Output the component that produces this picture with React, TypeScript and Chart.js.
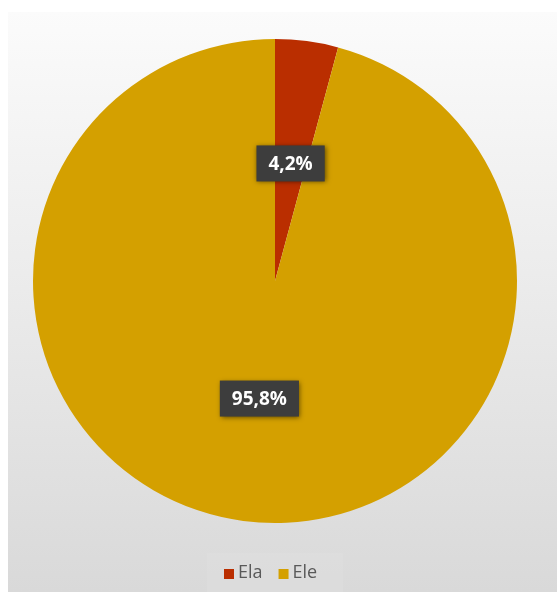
import React, { useEffect, useRef } from "react";
import { Chart, registerables } from "chart.js";

Chart.register(...registerables);

const categories = ["Ela", "Ele"];
const values = [4.2, 95.8];
const valueLabels = ["4,2%", "95,8%"];
const colors = ["#BA2E00", "#D4A000"];

const labelPlugin = {
  id: "boxLabels",
  afterDatasetsDraw(chart: any) {
    const ctx = chart.ctx;
    const meta = chart.getDatasetMeta(0);
    meta.data.forEach((arc: any, i: number) => {
      const { x, y, startAngle, endAngle, outerRadius } = arc.getProps(
        ["x", "y", "startAngle", "endAngle", "outerRadius"],
        true
      );
      const mid = (startAngle + endAngle) / 2;
      const r = outerRadius * 0.49;
      const cx = x + Math.cos(mid) * r;
      const cy = y + Math.sin(mid) * r;
      ctx.save();
      ctx.font = "bold 19px 'Open Sans', 'DejaVu Sans', sans-serif";
      const text = valueLabels[i];
      const tw = ctx.measureText(text).width;
      const w = tw + 24;
      const h = 36;
      ctx.shadowColor = "rgba(0,0,0,0.55)";
      ctx.shadowBlur = 5;
      ctx.shadowOffsetX = 1;
      ctx.shadowOffsetY = 1;
      ctx.fillStyle = "#3d3d3d";
      ctx.fillRect(cx - w / 2, cy - h / 2, w, h);
      ctx.shadowColor = "transparent";
      ctx.fillStyle = "#ffffff";
      ctx.textAlign = "center";
      ctx.textBaseline = "middle";
      ctx.fillText(text, cx, cy + 1);
      ctx.restore();
    });
  },
};

const legendPlugin = {
  id: "customLegend",
  afterDraw(chart: any) {
    const ctx = chart.ctx;
    const ds = chart.data.datasets[0];
    const labels = chart.data.labels as string[];
    ctx.save();
    ctx.fillStyle = "rgba(255,255,255,0.08)";
    ctx.fillRect(207, 553, 136, 39);
    ctx.font = "18px 'Open Sans', 'DejaVu Sans', sans-serif";
    ctx.textBaseline = "middle";
    const y = 573;
    let x = 224;
    labels.forEach((lab, i) => {
      ctx.fillStyle = ds.backgroundColor[i];
      ctx.fillRect(x, y - 4, 10, 10);
      ctx.fillStyle = "#595959";
      ctx.fillText(lab, x + 14, y);
      x += 14 + ctx.measureText(lab).width + 16;
    });
    ctx.restore();
  },
};

export default function App() {
  const ref = useRef<HTMLCanvasElement | null>(null);
  useEffect(() => {
    if (!ref.current) return;
    const chart = new Chart(ref.current, {
      type: "pie",
      data: {
        labels: categories,
        datasets: [
          {
            data: values,
            backgroundColor: colors,
            borderWidth: 0,
          },
        ],
      },
      options: {
        responsive: false,
        animation: false,
        layout: { padding: { left: 33, right: 40, top: 39, bottom: 69 } },
        plugins: {
          legend: { display: false },
          tooltip: { enabled: false },
        },
      },
      plugins: [labelPlugin, legendPlugin],
    });
    return () => chart.destroy();
  }, []);
  return (
    <div
      style={{
        position: "fixed",
        left: 0,
        top: 0,
        width: 557,
        height: 592,
        background: "#ffffff",
      }}
    >
      <div
        style={{
          position: "absolute",
          left: 8,
          top: 12,
          right: 0,
          bottom: 0,
          background: "linear-gradient(to bottom, #fbfbfb 0%, #ececec 45%, #d9d9d9 100%)",
        }}
      />
      <canvas
        ref={ref}
        width={557}
        height={592}
        style={{ position: "absolute", left: 0, top: 0 }}
      />
    </div>
  );
}
